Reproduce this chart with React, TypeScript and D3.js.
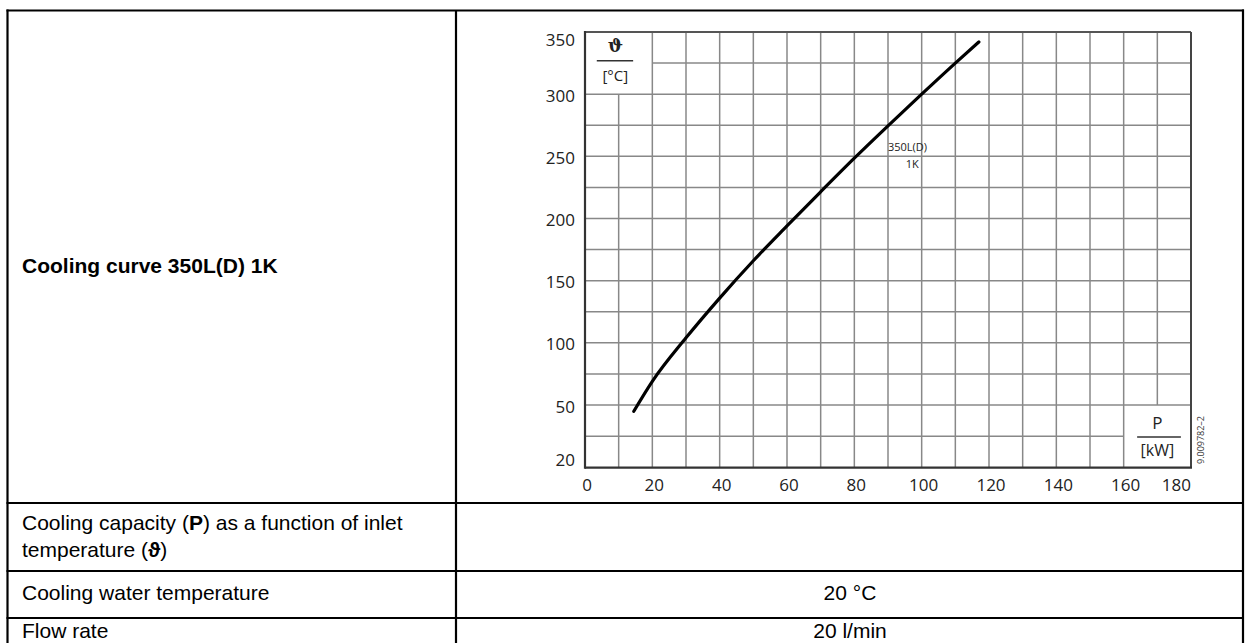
import React from "react";
import * as d3 from "d3";

// Cooling curve 350L(D) 1K : inlet temperature (°C) vs cooling capacity (kW)
const P_KW = [14.5, 20, 30, 40, 50, 60, 70, 80, 90, 100, 110, 117];
const THETA = [47, 69, 104, 136, 166, 194, 221.5, 248.5, 274.5, 300, 325, 342];

const X_TICKS = [0, 20, 40, 60, 80, 100, 120, 140, 160, 180];
const Y_TICKS = [20, 50, 100, 150, 200, 250, 300, 350];
const X_GRID = [10, 20, 30, 40, 50, 60, 70, 80, 90, 100, 110, 120, 130, 140, 150, 160, 170];
const Y_GRID = [35, 50, 75, 100, 125, 150, 175, 200, 225, 250, 275, 300, 325];

const ROW_LABELS = [
  "Cooling capacity (P) as a function of inlet temperature (ϑ)",
  "Cooling water temperature",
  "Flow rate",
];
const ROW_VALUES = ["", "20 °C", "20 l/min"];

export default function App() {
  const W = 1251;
  const H = 643;
  const x = d3.scaleLinear().domain([0, 180]).range([585, 1191]);
  const y = d3.scaleLinear().domain([20, 50, 350]).range([467.7, 405, 32]);
  const top = y(350);
  const bottom = y(20);
  const left = x(0);
  const right = x(180);

  const line = d3
    .line<number>()
    .x((_, i) => x(P_KW[i]))
    .y((d) => y(d))
    .curve(d3.curveMonotoneX);

  const tableL = 7.5;
  const tableR = 1243;
  const divX = 456;
  const rowY = [10.5, 503, 571, 618];
  const font = "'Liberation Sans', Arial, sans-serif";
  const chartFont = "'Open Sans', 'DejaVu Sans', sans-serif";

  // grid segments skipping the two label boxes
  const vSeg = (v: number) => {
    let y1 = top;
    let y2 = bottom;
    if (v < 20) y1 = y(300);
    if (v > 160) y2 = y(50);
    return [y1, y2];
  };
  const hSeg = (v: number) => {
    let x1 = left;
    let x2 = right;
    if (v > 300) x1 = x(20);
    if (v < 50) x2 = x(160);
    return [x1, x2];
  };

  return (
    <svg
      width={W}
      height={H}
      style={{ position: "absolute", left: 0, top: 0, background: "#fff" }}
    >
      <rect x={0} y={0} width={W} height={H} fill="#fff" />
      {/* table */}
      <g stroke="#000" strokeWidth={2.2} fill="none">
        <line x1={tableL} x2={tableL} y1={rowY[0] - 1} y2={H} />
        <line x1={tableR} x2={tableR} y1={rowY[0] - 1} y2={H} />
        <line x1={divX} x2={divX} y1={rowY[0]} y2={H} />
        {rowY.map((r, i) => (
          <line key={i} x1={tableL - 1} x2={tableR + 1} y1={r} y2={r} />
        ))}
      </g>
      <text
        x={22}
        y={267}
        fontFamily={font}
        fontWeight="bold"
        fontSize={21}
        dominantBaseline="middle"
      >
        Cooling curve 350L(D) 1K
      </text>
      <text x={22} fontFamily={font} fontSize={21}>
        <tspan x={22} y={530}>
          Cooling capacity (<tspan fontWeight="bold">P</tspan>) as a function of inlet
        </tspan>
        <tspan x={22} y={557}>
          temperature (<tspan fontWeight="bold">ϑ</tspan>)
        </tspan>
      </text>
      {ROW_LABELS.slice(1).map((t, i) => (
        <text
          key={t}
          x={22}
          y={i === 0 ? 594 : 632}
          fontFamily={font}
          fontSize={21}
          dominantBaseline="middle"
        >
          {t}
        </text>
      ))}
      {ROW_VALUES.map((t, i) =>
        t ? (
          <text
            key={t}
            x={850}
            y={i === 1 ? 594 : 632}
            fontFamily={font}
            fontSize={21}
            textAnchor="middle"
            dominantBaseline="middle"
          >
            {t}
          </text>
        ) : null
      )}

      {/* chart grid */}
      <g stroke="#888" strokeWidth={1.5}>
        {X_GRID.map((v) => {
          const [a, b] = vSeg(v);
          return <line key={"v" + v} x1={x(v)} x2={x(v)} y1={a} y2={b} />;
        })}
        {Y_GRID.map((v) => {
          const [a, b] = hSeg(v);
          return <line key={"h" + v} x1={a} x2={b} y1={y(v)} y2={y(v)} />;
        })}
      </g>
      {/* frame */}
      <g fill="none">
        <line x1={left} x2={right} y1={top} y2={top} stroke="#555" strokeWidth={2} />
        <line x1={right} x2={right} y1={top} y2={bottom} stroke="#444" strokeWidth={2} />
        <line x1={left} x2={left} y1={top - 1} y2={bottom + 1} stroke="#333" strokeWidth={2.2} />
        <line x1={left} x2={right + 1} y1={bottom} y2={bottom} stroke="#333" strokeWidth={2.2} />
      </g>

      {/* curve */}
      <path
        d={line(THETA) || ""}
        fill="none"
        stroke="#000"
        strokeWidth={3.2}
        strokeLinecap="round"
      />

      {/* tick labels */}
      {Y_TICKS.map((v) => (
        <text
          key={"yt" + v}
          x={left - 10}
          y={Math.min(Math.max(y(v) + 3, top + 9), bottom - 6)}
          textAnchor="end"
          dominantBaseline="middle"
          fontFamily={chartFont}
          fontSize={17}
          fill="#222"
        >
          {v}
        </text>
      ))}
      {X_TICKS.map((v) => (
        <text
          key={"xt" + v}
          x={v === 180 ? x(v) : x(v) + 2}
          y={486}
          textAnchor={v === 180 ? "end" : "middle"}
          dominantBaseline="middle"
          fontFamily={chartFont}
          fontSize={17}
          fill="#222"
        >
          {v}
        </text>
      ))}

      {/* axis titles */}
      <text
        x={x(9)}
        y={47}
        textAnchor="middle"
        dominantBaseline="middle"
        fontFamily="'DejaVu Serif', serif"
        fontWeight="bold"
        fontSize={18}
        fill="#222"
      >
        ϑ
      </text>
      <line x1={x(3.5)} x2={x(14.3)} y1={60.7} y2={60.7} stroke="#333" strokeWidth={1.5} />
      <text
        x={x(9)}
        y={77}
        textAnchor="middle"
        dominantBaseline="middle"
        fontFamily={chartFont}
        fontSize={15}
        fill="#222"
      >
        [°C]
      </text>

      <text
        x={x(170)}
        y={424}
        textAnchor="middle"
        dominantBaseline="middle"
        fontFamily={chartFont}
        fontSize={17}
        fill="#222"
      >
        P
      </text>
      <line x1={x(164)} x2={x(177)} y1={437} y2={437} stroke="#333" strokeWidth={1.5} />
      <text
        x={x(170)}
        y={452}
        textAnchor="middle"
        dominantBaseline="middle"
        fontFamily={chartFont}
        fontSize={16}
        fill="#222"
      >
        [kW]
      </text>
      <text
        transform={`translate(1202, 440) rotate(-90)`}
        textAnchor="middle"
        dominantBaseline="middle"
        fontFamily={chartFont}
        fontSize={9}
        fill="#333"
      >
        9.009782–2
      </text>

      {/* curve label */}
      <text
        x={x(95.8)}
        y={y(257)}
        textAnchor="middle"
        dominantBaseline="middle"
        fontFamily={chartFont}
        fontSize={11}
        fill="#222"
      >
        350L(D)
      </text>
      <text
        x={x(97.2)}
        y={y(243)}
        textAnchor="middle"
        dominantBaseline="middle"
        fontFamily={chartFont}
        fontSize={11}
        fill="#222"
      >
        1K
      </text>
    </svg>
  );
}
